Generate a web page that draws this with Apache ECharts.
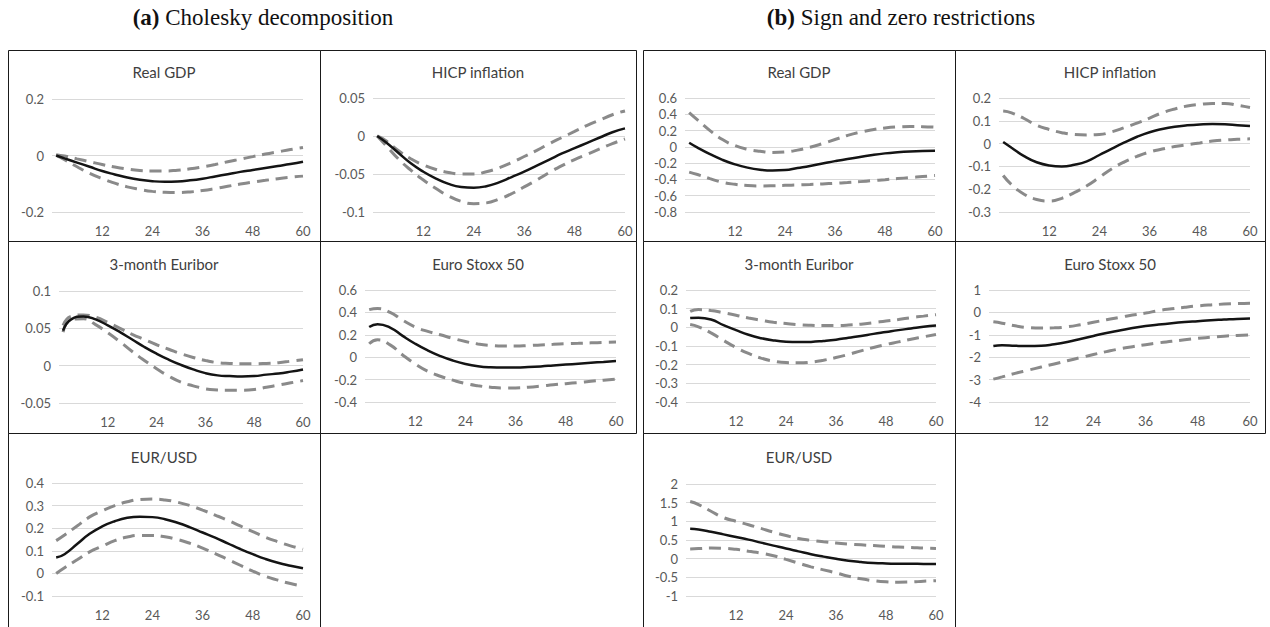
<!DOCTYPE html>
<html>
<head>
<meta charset="utf-8">
<script src="https://cdn.jsdelivr.net/npm/echarts@6/dist/echarts.min.js"></script>
<style>
  html, body { margin: 0; padding: 0; background: #fff; }
  #chart { width: 1270px; height: 627px; }
</style>
</head>
<body>
<div id="chart"></div>
<script>
// Horizon (months) at which each response is sampled
const months = [1, 3, 6, 9, 12, 15, 18, 21, 24, 27, 30, 33, 36, 39, 42, 45, 48, 51, 54, 57, 60];
const monthTicks = [12, 24, 36, 48, 60];

// (a) Cholesky decomposition: median response and bands
const cholGdpTicks = [-0.2, 0, 0.2];
const cholGdpMid = [0, -0.01, -0.025, -0.04, -0.055, -0.067, -0.078, -0.086, -0.091, -0.093, -0.092, -0.088, -0.082, -0.074, -0.066, -0.058, -0.051, -0.044, -0.037, -0.03, -0.022];
const cholGdpHi = [0.003, -0.002, -0.012, -0.022, -0.032, -0.041, -0.048, -0.053, -0.055, -0.055, -0.052, -0.047, -0.04, -0.032, -0.022, -0.013, -0.004, 0.005, 0.013, 0.021, 0.028];
const cholGdpLo = [0, -0.015, -0.04, -0.063, -0.082, -0.098, -0.111, -0.12, -0.127, -0.13, -0.131, -0.129, -0.124, -0.117, -0.109, -0.101, -0.094, -0.088, -0.082, -0.077, -0.073];

const cholHicpTicks = [-0.1, -0.05, 0, 0.05];
const cholHicpMid = [0, -0.008, -0.022, -0.036, -0.047, -0.056, -0.063, -0.067, -0.068, -0.066, -0.061, -0.054, -0.047, -0.039, -0.031, -0.023, -0.016, -0.009, -0.002, 0.005, 0.01];
const cholHicpHi = [0, -0.006, -0.019, -0.03, -0.038, -0.044, -0.048, -0.05, -0.05, -0.047, -0.042, -0.035, -0.027, -0.019, -0.01, -0.002, 0.006, 0.014, 0.021, 0.028, 0.033];
const cholHicpLo = [0, -0.012, -0.03, -0.045, -0.058, -0.069, -0.079, -0.086, -0.089, -0.088, -0.083, -0.076, -0.067, -0.058, -0.048, -0.039, -0.031, -0.024, -0.017, -0.01, -0.004];

const cholEuriborTicks = [-0.05, 0, 0.05, 0.1];
const cholEuriborMid = [0.047, 0.062, 0.066, 0.062, 0.054, 0.045, 0.035, 0.025, 0.016, 0.008, 0.001, -0.005, -0.01, -0.013, -0.014, -0.0145, -0.014, -0.012, -0.0105, -0.008, -0.005];
const cholEuriborHi = [0.054, 0.066, 0.068, 0.065, 0.058, 0.05, 0.042, 0.035, 0.028, 0.022, 0.016, 0.011, 0.007, 0.004, 0.003, 0.0025, 0.0025, 0.003, 0.004, 0.006, 0.008];
const cholEuriborLo = [0.045, 0.062, 0.063, 0.055, 0.044, 0.032, 0.019, 0.007, -0.004, -0.014, -0.022, -0.027, -0.031, -0.0325, -0.033, -0.033, -0.032, -0.029, -0.026, -0.023, -0.02];

const cholStoxxTicks = [-0.4, -0.2, 0, 0.2, 0.4, 0.6];
const cholStoxxMid = [0.27, 0.295, 0.265, 0.19, 0.12, 0.06, 0.01, -0.03, -0.06, -0.08, -0.09, -0.093, -0.092, -0.088, -0.082, -0.074, -0.066, -0.058, -0.05, -0.042, -0.035];
const cholStoxxHi = [0.425, 0.435, 0.4, 0.33, 0.27, 0.23, 0.2, 0.168, 0.14, 0.118, 0.105, 0.1, 0.1, 0.104, 0.11, 0.115, 0.12, 0.124, 0.128, 0.132, 0.135];
const cholStoxxLo = [0.12, 0.155, 0.11, 0.02, -0.06, -0.125, -0.17, -0.205, -0.235, -0.255, -0.268, -0.275, -0.274, -0.268, -0.258, -0.246, -0.236, -0.226, -0.215, -0.205, -0.195];

const cholUsdTicks = [-0.1, 0, 0.1, 0.2, 0.3, 0.4];
const cholUsdMid = [0.07, 0.085, 0.13, 0.175, 0.208, 0.231, 0.246, 0.251, 0.249, 0.24, 0.224, 0.204, 0.181, 0.158, 0.133, 0.108, 0.085, 0.064, 0.047, 0.034, 0.023];
const cholUsdHi = [0.145, 0.17, 0.21, 0.25, 0.277, 0.3, 0.317, 0.327, 0.329, 0.325, 0.315, 0.3, 0.28, 0.258, 0.235, 0.21, 0.185, 0.16, 0.14, 0.122, 0.107];
const cholUsdLo = [0, 0.025, 0.06, 0.095, 0.12, 0.145, 0.161, 0.168, 0.168, 0.162, 0.15, 0.133, 0.112, 0.088, 0.062, 0.036, 0.01, -0.013, -0.03, -0.045, -0.056];

// (b) Sign and zero restrictions: median response and bands
const signGdpTicks = [-0.8, -0.6, -0.4, -0.2, 0, 0.2, 0.4, 0.6];
const signGdpMid = [0.05, -0.01, -0.09, -0.16, -0.215, -0.255, -0.28, -0.29, -0.285, -0.26, -0.235, -0.205, -0.175, -0.148, -0.125, -0.1, -0.08, -0.066, -0.056, -0.05, -0.048];
const signGdpHi = [0.42, 0.33, 0.2, 0.09, 0.015, -0.03, -0.055, -0.068, -0.062, -0.04, -0.005, 0.04, 0.09, 0.14, 0.18, 0.21, 0.232, 0.245, 0.25, 0.248, 0.242];
const signGdpLo = [-0.31, -0.34, -0.39, -0.435, -0.46, -0.475, -0.48, -0.478, -0.473, -0.468, -0.462, -0.455, -0.447, -0.438, -0.427, -0.415, -0.403, -0.39, -0.378, -0.365, -0.352];

const signHicpTicks = [-0.3, -0.2, -0.1, 0, 0.1, 0.2];
const signHicpMid = [0.007, -0.018, -0.055, -0.082, -0.096, -0.1, -0.093, -0.078, -0.05, -0.022, 0.005, 0.03, 0.05, 0.064, 0.074, 0.08, 0.084, 0.086, 0.085, 0.081, 0.077];
const signHicpHi = [0.143, 0.135, 0.11, 0.08, 0.062, 0.048, 0.04, 0.038, 0.04, 0.052, 0.07, 0.09, 0.112, 0.135, 0.152, 0.165, 0.172, 0.176, 0.176, 0.168, 0.158];
const signHicpLo = [-0.14, -0.18, -0.222, -0.245, -0.252, -0.24, -0.215, -0.185, -0.148, -0.11, -0.08, -0.056, -0.037, -0.024, -0.013, -0.005, 0.003, 0.011, 0.016, 0.019, 0.021];

const signEuriborTicks = [-0.4, -0.3, -0.2, -0.1, 0, 0.1, 0.2];
const signEuriborMid = [0.05, 0.052, 0.042, 0.012, -0.015, -0.04, -0.058, -0.07, -0.077, -0.079, -0.078, -0.073, -0.066, -0.056, -0.046, -0.035, -0.025, -0.015, -0.006, 0.003, 0.01];
const signEuriborHi = [0.085, 0.095, 0.09, 0.078, 0.065, 0.05, 0.038, 0.027, 0.02, 0.014, 0.011, 0.01, 0.01, 0.012, 0.017, 0.025, 0.034, 0.042, 0.052, 0.06, 0.068];
const signEuriborLo = [0.015, 0.003, -0.03, -0.07, -0.108, -0.14, -0.165, -0.181, -0.189, -0.19, -0.186, -0.176, -0.162, -0.145, -0.126, -0.108, -0.092, -0.078, -0.064, -0.051, -0.038];

const signStoxxTicks = [-4, -3, -2, -1, 0, 1];
const signStoxxMid = [-1.5, -1.47, -1.49, -1.5, -1.49, -1.42, -1.32, -1.19, -1.05, -0.92, -0.81, -0.7, -0.61, -0.54, -0.48, -0.43, -0.39, -0.35, -0.32, -0.29, -0.27];
const signStoxxHi = [-0.42, -0.48, -0.6, -0.68, -0.7, -0.69, -0.64, -0.55, -0.44, -0.33, -0.22, -0.12, -0.03, 0.08, 0.16, 0.23, 0.29, 0.335, 0.37, 0.395, 0.41];
const signStoxxLo = [-2.98, -2.88, -2.72, -2.58, -2.44, -2.3, -2.16, -2.02, -1.88, -1.75, -1.63, -1.53, -1.44, -1.36, -1.29, -1.22, -1.16, -1.11, -1.06, -1.03, -1.0];

const signUsdTicks = [-1, -0.5, 0, 0.5, 1, 1.5, 2];
const signUsdMid = [0.8, 0.78, 0.72, 0.65, 0.58, 0.51, 0.43, 0.35, 0.27, 0.195, 0.12, 0.055, -0.005, -0.055, -0.09, -0.115, -0.128, -0.135, -0.138, -0.14, -0.142];
const signUsdHi = [1.53, 1.45, 1.27, 1.1, 1.0, 0.91, 0.81, 0.71, 0.62, 0.54, 0.49, 0.45, 0.42, 0.39, 0.37, 0.35, 0.33, 0.31, 0.3, 0.285, 0.275];
const signUsdLo = [0.26, 0.27, 0.285, 0.28, 0.25, 0.2, 0.15, 0.08, -0.02, -0.12, -0.22, -0.3, -0.38, -0.47, -0.54, -0.59, -0.62, -0.63, -0.625, -0.605, -0.59];

// Panel arrangement: frame box [x, y, w, h], plot box [x, y, w, h], title row
const panels = [
  { name: 'Real GDP',         ticks: cholGdpTicks,     mid: cholGdpMid,     hi: cholGdpHi,     lo: cholGdpLo,     frame: [8, 50, 312, 191],   plot: [52, 99, 251, 113],  titleY: 72 },
  { name: 'HICP inflation',   ticks: cholHicpTicks,    mid: cholHicpMid,    hi: cholHicpHi,    lo: cholHicpLo,    frame: [320, 50, 316, 191], plot: [373, 98, 252, 114], titleY: 72 },
  { name: 'Real GDP',         ticks: signGdpTicks,     mid: signGdpMid,     hi: signGdpHi,     lo: signGdpLo,     frame: [643, 50, 312, 191], plot: [685, 98, 250, 114], titleY: 72 },
  { name: 'HICP inflation',   ticks: signHicpTicks,    mid: signHicpMid,    hi: signHicpHi,    lo: signHicpLo,    frame: [955, 50, 310, 191], plot: [999, 98, 251, 114], titleY: 72 },
  { name: '3-month Euribor',  ticks: cholEuriborTicks, mid: cholEuriborMid, hi: cholEuriborHi, lo: cholEuriborLo, frame: [8, 241, 312, 192],  plot: [59, 291, 244, 112], titleY: 264 },
  { name: 'Euro Stoxx 50',    ticks: cholStoxxTicks,   mid: cholStoxxMid,   hi: cholStoxxHi,   lo: cholStoxxLo,   frame: [320, 241, 316, 192], plot: [365, 290, 251, 112], titleY: 264 },
  { name: '3-month Euribor',  ticks: signEuriborTicks, mid: signEuriborMid, hi: signEuriborHi, lo: signEuriborLo, frame: [643, 241, 312, 192], plot: [686, 290, 250, 112], titleY: 264 },
  { name: 'Euro Stoxx 50',    ticks: signStoxxTicks,   mid: signStoxxMid,   hi: signStoxxHi,   lo: signStoxxLo,   frame: [955, 241, 310, 192], plot: [989, 290, 261, 112], titleY: 264 },
  { name: 'EUR/USD',          ticks: cholUsdTicks,     mid: cholUsdMid,     hi: cholUsdHi,     lo: cholUsdLo,     frame: [8, 433, 312, 200],  plot: [52, 483, 251, 113], titleY: 457 },
  { name: 'EUR/USD',          ticks: signUsdTicks,     mid: signUsdMid,     hi: signUsdHi,     lo: signUsdLo,     frame: [643, 433, 312, 200], plot: [686, 484, 250, 112], titleY: 457 }
];

const headings = [
  { tag: '(a)', text: 'Cholesky decomposition', x: 263, y: 17 },
  { tag: '(b)', text: 'Sign and zero restrictions', x: 901, y: 17 }
];

const labelFont = { color: '#595959', fontFamily: 'Lato', fontSize: 13 };
const bandStyle = { color: '#8a8a8a', width: 3, type: [12, 7], cap: 'butt' };
const midStyle = { color: '#141414', width: 2.5 };

const grids = [], xAxes = [], yAxes = [], series = [], graphics = [];

panels.forEach((p, i) => {
  const [gx, gy, gw, gh] = p.plot;
  grids.push({ left: gx, top: gy, width: gw, height: gh });

  xAxes.push({
    type: 'value', gridIndex: i,
    min: 0, max: monthTicks[monthTicks.length - 1],
    interval: monthTicks[1] - monthTicks[0],
    axisLine: { show: false }, axisTick: { show: false }, splitLine: { show: false },
    axisLabel: Object.assign({ showMinLabel: false, margin: 12 }, labelFont)
  });

  const t = p.ticks;
  yAxes.push({
    type: 'value', gridIndex: i,
    min: t[0], max: t[t.length - 1],
    interval: +(t[1] - t[0]).toFixed(6),
    axisLine: { show: false }, axisTick: { show: false },
    splitLine: { show: true, lineStyle: { color: '#d9d9d9', width: 1 } },
    axisLabel: Object.assign({ margin: 8 }, labelFont)
  });

  const pts = arr => months.map((m, k) => [m, arr[k]]);
  [p.hi, p.lo].forEach(band => series.push({
    type: 'line', xAxisIndex: i, yAxisIndex: i, data: pts(band),
    smooth: true, symbol: 'none', silent: true, z: 2, lineStyle: bandStyle
  }));
  series.push({
    type: 'line', xAxisIndex: i, yAxisIndex: i, data: pts(p.mid),
    smooth: true, symbol: 'none', silent: true, z: 3, lineStyle: midStyle
  });

  const [fx, fy, fw, fh] = p.frame;
  graphics.push({
    type: 'rect', silent: true, z: 10,
    shape: { x: fx + 0.5, y: fy + 0.5, width: fw, height: fh },
    style: { fill: 'none', stroke: '#1a1a1a', lineWidth: 1 }
  });
  graphics.push({
    type: 'text', silent: true, z: 10, x: fx + fw / 2, y: p.titleY,
    style: {
      text: p.name, fill: '#404040', fontFamily: 'Lato', fontSize: 15,
      align: 'center', verticalAlign: 'middle'
    }
  });
});

headings.forEach(h => graphics.push({
  type: 'text', silent: true, z: 10, x: h.x, y: h.y,
  style: {
    text: '{b|' + h.tag + '} ' + h.text,
    fill: '#111', fontFamily: 'Liberation Serif', fontSize: 23,
    align: 'center', verticalAlign: 'middle',
    rich: { b: { fontWeight: 'bold', fontFamily: 'Liberation Serif', fontSize: 23, fill: '#111' } }
  }
}));

const chart = echarts.init(document.getElementById('chart'), null, { renderer: 'svg', width: 1270, height: 627 });
chart.setOption({
  animation: false,
  backgroundColor: '#ffffff',
  grid: grids,
  xAxis: xAxes,
  yAxis: yAxes,
  series: series,
  graphic: graphics
});
</script>
</body>
</html>
